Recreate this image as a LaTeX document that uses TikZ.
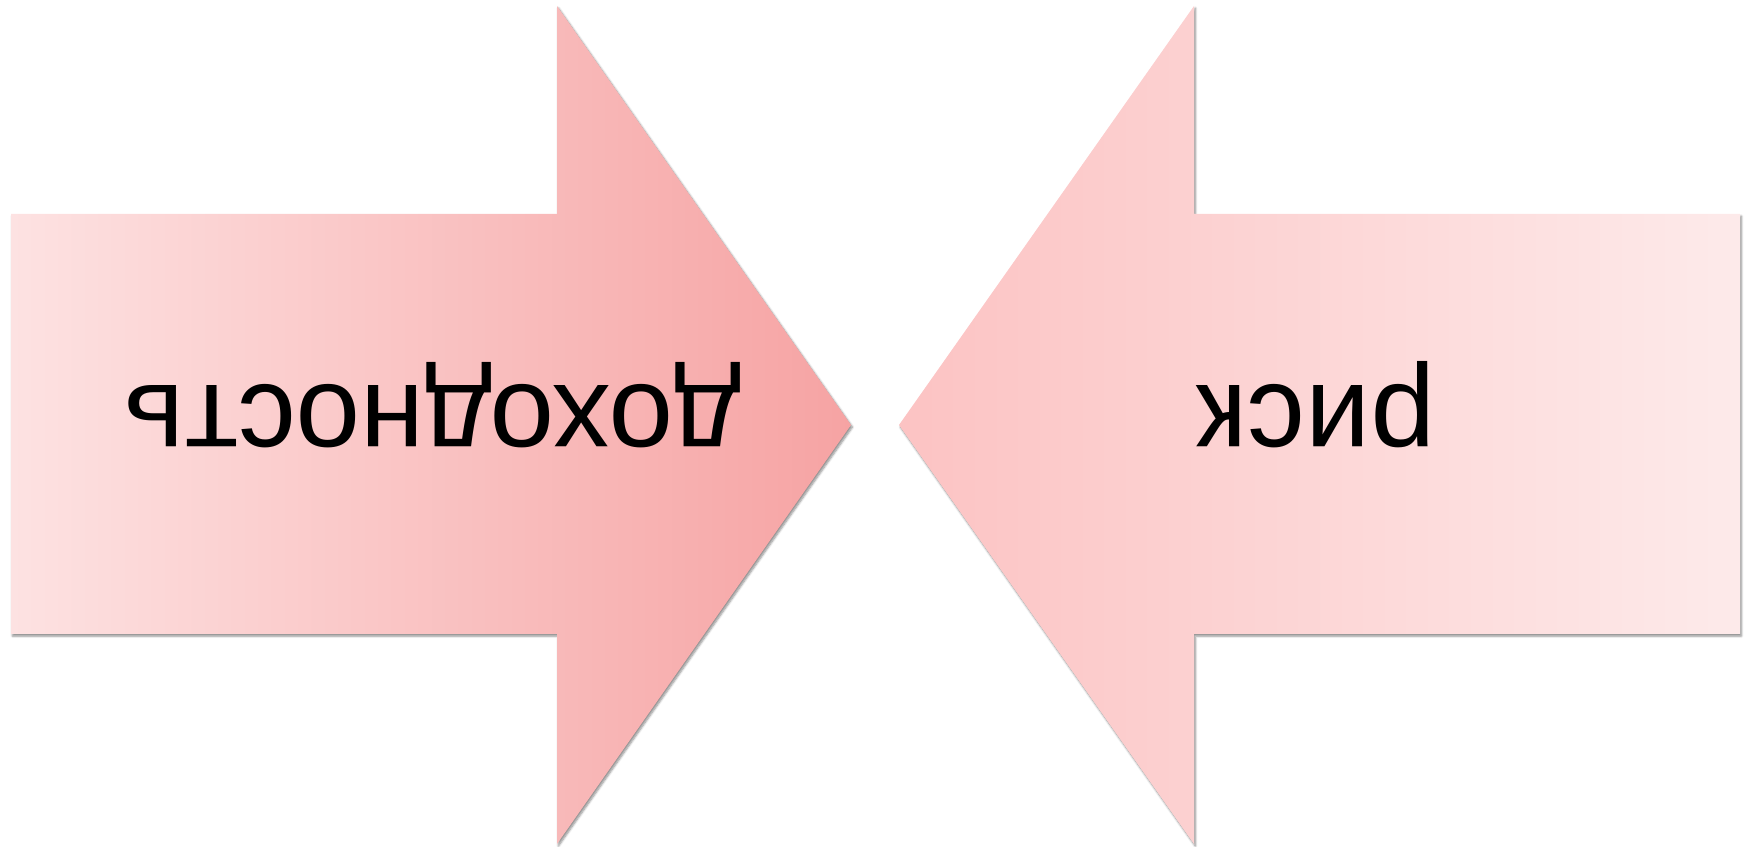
\documentclass[tikz,border=0pt]{standalone}
\usepackage{fontspec}
\setmainfont{Liberation Sans}
\usetikzlibrary{shadows.blur}

\definecolor{gainlight}{HTML}{FDE2E2}
\definecolor{gaindark}{HTML}{F6A3A3}
\definecolor{risklight}{HTML}{FDEAEA}
\definecolor{riskdark}{HTML}{FCC3C3}

\begin{document}
\begin{tikzpicture}[
    x=0.02cm, y=-0.02cm,
    arrowshape/.style={blur shadow={shadow xshift=0.8pt, shadow yshift=-1.2pt, shadow blur radius=1.2pt, shadow opacity=45, shadow blur steps=6}},
    flipped/.style={rotate=180, anchor=base, inner sep=0pt, font=\fontsize{66}{70}\selectfont}
]
\useasboundingbox (0,0) rectangle (1752,847);

% left arrow, pointing right
\path[arrowshape, left color=gainlight, right color=gaindark]
    (11,214) -- (557,214) -- (557,6) -- (851,425) -- (557,844) -- (557,634) -- (11,634) -- cycle;
% right arrow, pointing left
\path[arrowshape, left color=riskdark, right color=risklight]
    (1740,214) -- (1194,214) -- (1194,6) -- (899,425) -- (1194,844) -- (1194,634) -- (1740,634) -- cycle;

\node[flipped] (gain) at (433,386) {доходность};
\node[flipped] (risk) at (1316,386) {риск};

\end{tikzpicture}
\end{document}
